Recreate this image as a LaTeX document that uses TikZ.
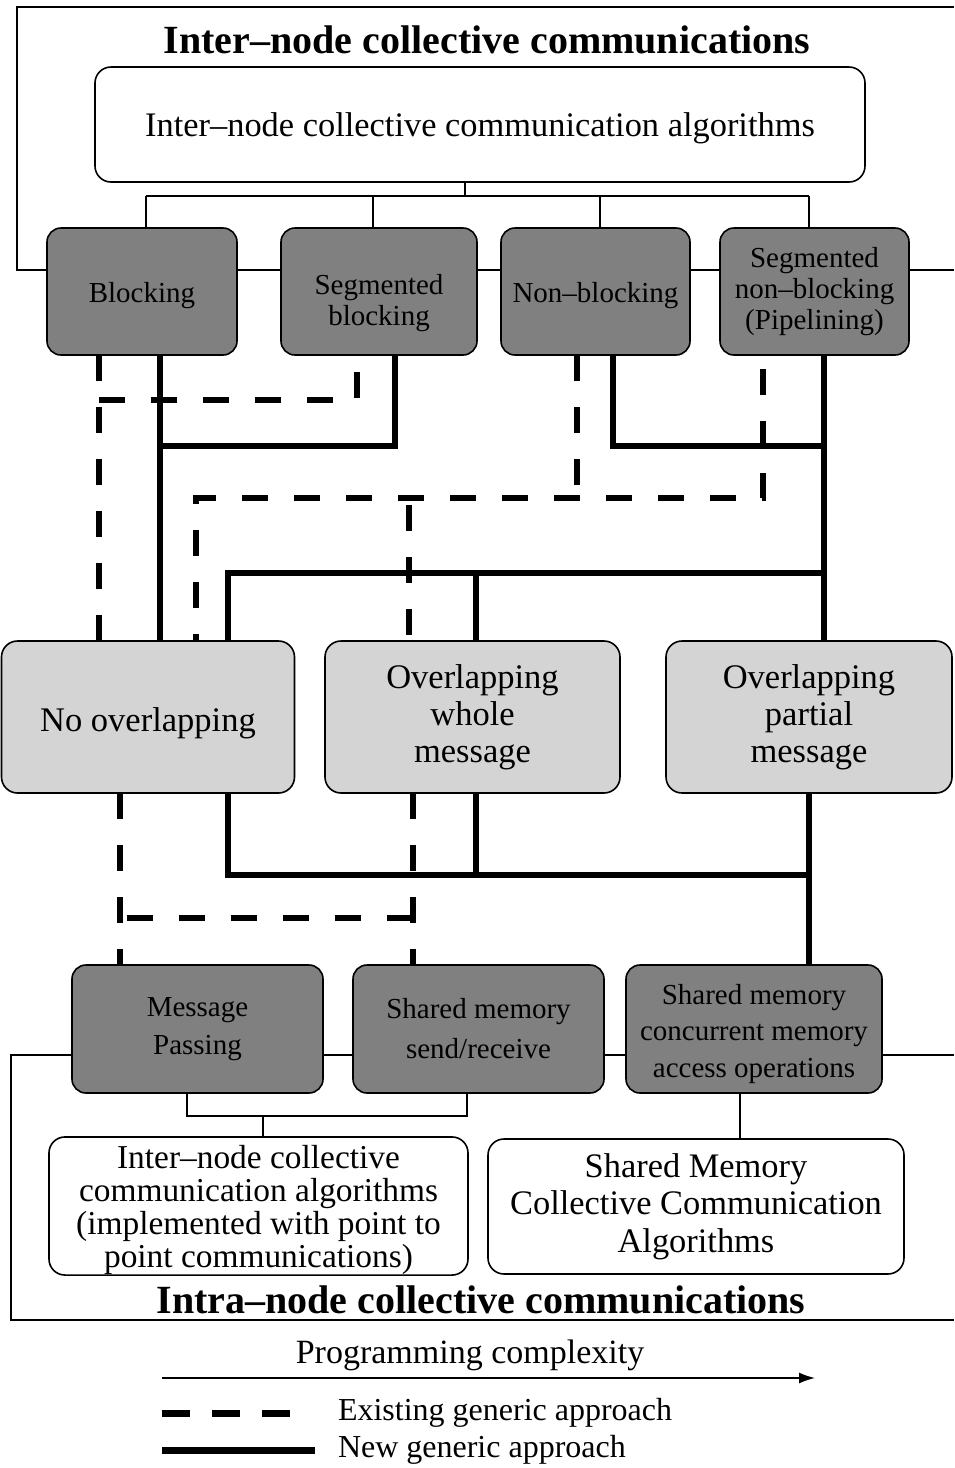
\documentclass[tikz,border=0pt]{standalone}
\usepackage{fontspec}
\setmainfont{Liberation Serif}
\usetikzlibrary{arrows.meta}
\newcommand\setfs[2]{\fontsize{#1}{#2}\selectfont}
% strut that lowers the text block inside its box
\newcommand\lowerby[1]{\rule{0pt}{#1}}
\begin{document}
\begin{tikzpicture}[x=1pt,y=-1pt,
  every node/.style={inner sep=0pt,outer sep=0pt},
  algbox/.style={draw,line width=1.6pt,rounded corners=16pt,fill=white,align=center},
  darkbox/.style={draw,line width=1.6pt,rounded corners=14pt,fill=black!50,align=center},
  lightbox/.style={draw,line width=1.6pt,rounded corners=16pt,fill=black!17,align=center},
  oldlink/.style={line width=6pt,dash pattern=on 26pt off 26pt},
  newlink/.style={line width=5.5pt},
  treelink/.style={line width=1.8pt},
  framelink/.style={line width=1.8pt},
  heading/.style={font=\setfs{40}{46}\bfseries},
]
\useasboundingbox (0,0) rectangle (954,1468);

% outer frames of the two levels
\draw[framelink] (954,7) -- (17,7) -- (17,270) -- (954,270);
\draw[framelink] (954,1055) -- (11,1055) -- (11,1320) -- (954,1320);

\node[heading] (interhead) at (487,40) {Inter–node collective communications};
\node[heading] (intrahead) at (481,1300) {Intra–node collective communications};

% inter-node algorithms and their four variants
\node[algbox,minimum width=770pt,minimum height=115pt,font=\setfs{34.4}{40}] (top) at (480,124.5)
  {\lowerby{32pt}Inter–node collective communication algorithms};

\begin{scope}[every node/.append style={darkbox,minimum height=127pt,font=\setfs{29}{31}}]
\node[minimum width=190pt] (blocking) at (142,291.5) {\lowerby{28pt}Blocking};
\node[minimum width=196pt] (segblk) at (379,291.5) {\lowerby{44pt}Segmented\\blocking};
\node[minimum width=189pt] (nonblk) at (595.5,291.5) {\lowerby{28pt}Non–blocking};
\node[minimum width=189pt] (segnb) at (814.5,291.5) {Segmented\\non–blocking\\(Pipelining)};
\end{scope}

% overlapping strategies
\begin{scope}[every node/.append style={lightbox,minimum height=152pt,font=\setfs{34.5}{37}}]
\node[minimum width=293pt] (noov) at (148,717) {\lowerby{36pt}No overlapping};
\node[minimum width=295pt] (ovw) at (472.5,717) {Overlapping\\whole\\message};
\node[minimum width=286pt] (ovp) at (809,717) {Overlapping\\partial\\message};
\end{scope}

% intra-node mechanisms
\begin{scope}[every node/.append style={darkbox,minimum height=128pt}]
\node[minimum width=251pt,font=\setfs{29}{38}] (mp) at (197.5,1029) {Message\\Passing};
\node[minimum width=251pt,font=\setfs{29}{40}] (smsr) at (478.5,1029) {Shared memory\\send/receive};
\node[minimum width=256pt,font=\setfs{29}{36.5}] (smc) at (754,1029) {\lowerby{30pt}Shared memory\\concurrent memory\\access operations};
\end{scope}

\node[algbox,minimum width=419pt,minimum height=136pt,font=\setfs{33.4}{33}] (algL) at (258.5,1206)
  {\lowerby{32pt}Inter–node collective\\communication algorithms\\(implemented with point to\\point communications)};
\node[algbox,minimum width=416pt,minimum height=135pt,font=\setfs{34.4}{37.5}] (algR) at (696,1206.5)
  {Shared Memory\\Collective Communication\\Algorithms};

% lanes and junctions
\coordinate (tA) at (465,196);
\coordinate (tL) at (146,196);
\coordinate (tB) at (373,196);
\coordinate (tC) at (600,196);
\coordinate (tR) at (809,196);

\coordinate (dA) at (99,0);
\coordinate (dB) at (357,0);
\coordinate (dC) at (577,0);
\coordinate (dD) at (763,0);
\coordinate (dE) at (196,0);
\coordinate (dF) at (409,0);
\coordinate (dG) at (120,0);
\coordinate (dH) at (413,0);
\coordinate (jd1) at (99,400);
\coordinate (jd2) at (196,498);
\coordinate (jd3) at (577,498);
\coordinate (jd4) at (409,498);
\coordinate (jd5) at (120,918);
\coordinate (jd6) at (413,918);

\coordinate (sA) at (160,0);
\coordinate (sB) at (395,0);
\coordinate (sC) at (613,0);
\coordinate (sD) at (824,0);
\coordinate (sE) at (228,0);
\coordinate (sF) at (476,0);
\coordinate (sG) at (809,0);
\coordinate (js1) at (160,446);
\coordinate (js2) at (824,446);
\coordinate (js3) at (824,573);
\coordinate (js4) at (228,573);
\coordinate (js5) at (476,573);
\coordinate (js6) at (809,875);
\coordinate (js7) at (476,875);

\coordinate (bA) at (187,1116);
\coordinate (bB) at (467,1116);
\coordinate (bC) at (263,1116);
\coordinate (bD) at (740,0);

% tree below the inter-node algorithms box
\draw[treelink] (top.south -| tA) -- (tA);
\draw[treelink] (tL) -- (tR);
\draw[treelink] (tL) -- (blocking.north -| tL);
\draw[treelink] (tB) -- (segblk.north -| tB);
\draw[treelink] (tC) -- (nonblk.north -| tC);
\draw[treelink] (tR) -- (segnb.north -| tR);

% existing approach, upper half
\draw[oldlink] (blocking.south -| dA) -- (noov.north -| dA);
\draw[oldlink] (jd1) -| (segblk.south -| dB);
\draw[oldlink,dash phase=38pt] (segnb.south -| dD) |- (jd2) -- (noov.north -| dE);
\draw[oldlink] (nonblk.south -| dC) -- (jd3);
\draw[oldlink,dash phase=45pt] (jd4) -- (ovw.north -| dF);

% new approach, upper half
\draw[newlink] (blocking.south -| sA) -- (noov.north -| sA);
\draw[newlink] (segblk.south -| sB) |- (js1);
\draw[newlink] (segnb.south -| sD) -- (ovp.north -| sD);
\draw[newlink] (nonblk.south -| sC) |- (js2);
\draw[newlink] (js3) -- (js4) -- (noov.north -| sE);
\draw[newlink] (js5) -- (ovw.north -| sF);

% existing approach, lower half
\draw[oldlink] (noov.south -| dG) -- (mp.north -| dG);
\draw[oldlink] (ovw.south -| dH) -- (smsr.north -| dH);
\draw[oldlink] (jd6) -- (jd5);

% new approach, lower half
\draw[newlink] (noov.south -| sE) |- (js6);
\draw[newlink] (ovw.south -| sF) -- (js7);
\draw[newlink] (ovp.south -| sG) -- (smc.north -| sG);

% tree above the intra-node algorithm boxes
\draw[treelink] (mp.south -| bA) -- (bA) -- (bB) -- (smsr.south -| bB);
\draw[treelink] (bC) -- (algL.north -| bC);
\draw[treelink] (smc.south -| bD) -- (algR.north -| bD);

% legend
\node[font=\setfs{34}{40}] (pc) at (470,1355) {Programming complexity};
\coordinate (arrS) at (162,1378);
\coordinate (arrE) at (815,1378);
\draw[line width=1.5pt,-{Latex[length=16pt,width=11pt]}] (arrS) -- (arrE);
\node[font=\setfs{32}{38},anchor=west] (lgold) at (338,1413) {Existing generic approach};
\node[font=\setfs{32}{38},anchor=west] (lgnew) at (338,1450) {New generic approach};
\draw[line width=7pt,dash pattern=on 28pt off 22pt] (162,1413) -- (290,1413);
\draw[line width=7pt] (162,1450) -- (315,1450);
\end{tikzpicture}
\end{document}
